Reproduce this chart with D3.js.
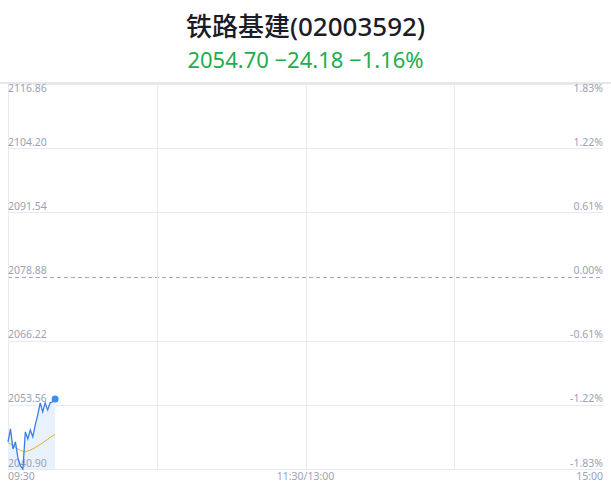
<!DOCTYPE html>
<html>
<head>
<meta charset="utf-8">
<script src="https://cdn.jsdelivr.net/npm/d3@7"></script>
<style>
  html, body { margin: 0; padding: 0; background: #fff; }
  svg { display: block; font-family: "Noto Sans", "Noto Sans CJK SC", sans-serif; }
  .grid { stroke: #e9e9ef; stroke-width: 1; }
  .lbl { fill: #9da1b5; font-size: 10.5px; }
</style>
</head>
<body>
<div id="chart"></div>
<script>
const title = '铁路基建(02003592)'
const subtitle = '2054.70 −24.18 −1.16%'
const preClose = 2078.88
const priceTicks = [2116.86, 2104.20, 2091.54, 2078.88, 2066.22, 2053.56, 2040.90]
const pctTicks = ['1.83%', '1.22%', '0.61%', '0.00%', '-0.61%', '-1.22%', '-1.83%']
const timeLabels = ['09:30', '11:30/13:00', '15:00']
// minute index from 09:30 (lunch break removed), 240 minutes a day
const minutes = [0, 1, 2, 3, 4, 5, 6, 7, 8, 9, 10, 11, 12, 13, 14, 15, 16, 17, 18, 19]
const prices = [2046.24, 2048.81, 2044.86, 2046.24, 2043.08, 2041.49, 2040.90, 2048.22, 2046.84, 2048.61,
    2047.23, 2049.60, 2051.58, 2053.96, 2052.18, 2053.96, 2052.57, 2053.96, 2054.16, 2054.70]
const avgPrices = [2046.10, 2045.85, 2045.45, 2045.15, 2044.86, 2044.56, 2044.36, 2044.32, 2044.46, 2044.66,
    2044.86, 2045.15, 2045.45, 2045.75, 2046.04, 2046.44, 2046.74, 2047.13, 2047.43, 2047.72]

function intradayChart() {
    let width = 611,
        height = 492,
        margin = { top: 84, left: 8, right: 8, bottom: 23 }

    function chart(selector) {
        let svg = d3.select(selector)
            .append('svg')
            .attr('width', width)
            .attr('height', height)

        let x = d3.scaleLinear()
            .domain([0, 240])
            .range([margin.left, width - margin.right])

        let y = d3.scaleLinear()
            .domain([d3.min(priceTicks), d3.max(priceTicks)])
            .range([height - margin.bottom, margin.top])

        let series = minutes.map((m, i) => ({ m: m, p: prices[i], a: avgPrices[i] }))

        // title block
        svg.append('text')
            .attr('x', width / 2)
            .attr('y', 36)
            .attr('text-anchor', 'middle')
            .attr('fill', '#1c1c28')
            .style('font-size', '26px')
            .style('font-weight', 500)
            .text(title)
        svg.append('text')
            .attr('x', width / 2)
            .attr('y', 68)
            .attr('text-anchor', 'middle')
            .attr('fill', '#22ad4b')
            .style('font-size', '22px')
            .text(subtitle)

        svg.append('line')
            .attr('x1', 0).attr('x2', width)
            .attr('y1', margin.top - 1).attr('y2', margin.top - 1)
            .attr('stroke', '#e6e6eb')
            .attr('stroke-width', 2)

        // horizontal grid
        svg.selectAll('.hgrid')
            .data(priceTicks.filter(d => d !== preClose)).enter()
            .append('line')
            .attr('class', 'grid')
            .attr('x1', x(0)).attr('x2', x(240))
            .attr('y1', d => Math.round(y(d)) + 0.5)
            .attr('y2', d => Math.round(y(d)) + 0.5)

        svg.append('line')
            .attr('x1', x(0)).attr('x2', x(240))
            .attr('y1', Math.round(y(preClose)) + 0.5)
            .attr('y2', Math.round(y(preClose)) + 0.5)
            .attr('stroke', '#a3a7bd')
            .attr('stroke-dasharray', '4,3')

        // vertical grid
        svg.selectAll('.vgrid')
            .data([0, 60, 120, 180]).enter()
            .append('line')
            .attr('class', 'grid')
            .attr('x1', d => Math.round(x(d)) + 0.5)
            .attr('x2', d => Math.round(x(d)) + 0.5)
            .attr('y1', y.range()[1])
            .attr('y2', y.range()[0])

        // price area sits under the labels
        svg.append('path')
            .datum(series)
            .attr('fill', '#e9f1fd')
            .attr('d', d3.area().x(d => x(d.m)).y0(y.range()[0]).y1(d => y(d.p)))

        // axis labels
        svg.selectAll('.lleft')
            .data(priceTicks).enter()
            .append('text')
            .attr('class', 'lbl')
            .attr('x', x(0))
            .attr('y', (d, i) => i === 0 ? y(d) + 8 : y(d) - 2.5)
            .text(d => d.toFixed(2))
        svg.selectAll('.lright')
            .data(pctTicks).enter()
            .append('text')
            .attr('class', 'lbl')
            .attr('x', x(240))
            .attr('y', (d, i) => i === 0 ? y(priceTicks[i]) + 8 : y(priceTicks[i]) - 2.5)
            .attr('text-anchor', 'end')
            .text(d => d)
        svg.selectAll('.ltime')
            .data(timeLabels).enter()
            .append('text')
            .attr('class', 'lbl')
            .attr('x', (d, i) => x(i * 120))
            .attr('y', height - margin.bottom + 11)
            .attr('text-anchor', (d, i) => ['start', 'middle', 'end'][i])
            .text(d => d)

        svg.append('path')
            .datum(series)
            .attr('fill', 'none')
            .attr('stroke', '#d9b526')
            .attr('stroke-width', 1)
            .attr('d', d3.line().x(d => x(d.m)).y(d => y(d.a)))

        svg.append('path')
            .datum(series)
            .attr('fill', 'none')
            .attr('stroke', '#3a7de8')
            .attr('stroke-width', 1.3)
            .attr('d', d3.line().x(d => x(d.m)).y(d => y(d.p)))

        let last = series[series.length - 1]
        svg.append('circle')
            .attr('cx', x(last.m))
            .attr('cy', y(last.p))
            .attr('r', 3.5)
            .attr('fill', '#3b8ef5')

        return chart
    }

    return chart
}

intradayChart()('#chart')
</script>
</body>
</html>
